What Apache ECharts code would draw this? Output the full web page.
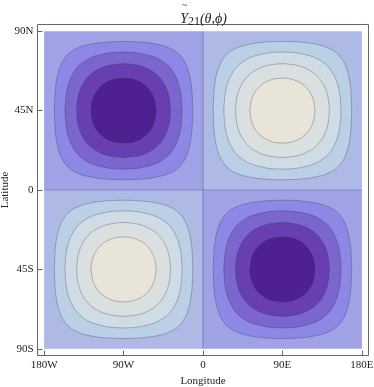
<!DOCTYPE html>
<html>
<head>
<meta charset="utf-8">
<style>html,body{margin:0;padding:0;background:#fff}#main{width:374px;height:387px}</style>
<script src="https://cdn.jsdelivr.net/npm/echarts@6/dist/echarts.min.js"></script>
</head>
<body>
<div id="main"></div>
<script>
// tick positions and their labels
var lonTicks = [-180, -90, 0, 90, 180];
var lonLabels = ['180W', '90W', '0', '90E', '180E'];
var latTicks = [-90, -45, 0, 45, 90];
var latLabels = ['90S', '45S', '0', '45N', '90N'];

// lobe centres [lon, lat, kind] kind 0 = purple, 1 = pale
var lobes = [[-90, 45, 0], [90, 45, 1], [-90, -45, 1], [90, -45, 0]];

var backdrop = [[0, 45], [90, 45], [90, 0]];
var ring1 = [[0, 39.2], [15, 39], [30, 38.3], [45, 36.8], [55, 34.8], [60, 33.2], [65, 30.9], [70, 27.1], [74, 21.7], [76, 17.1], [77.5, 11.2], [78.4, 0]];
var ring2 = [[0, 33.2], [15, 32.8], [30, 31.2], [40, 29.3], [50, 25.8], [55, 22.9], [60, 18.4], [63, 14.1], [65, 9.4], [66.4, 0]];
var ring3 = [[0, 26.6], [15, 25.8], [25, 24.3], [35, 21.5], [42, 18.1], [47, 14.2], [50, 10.6], [52, 6.5], [53.1, 0]];
var ring4 = [[0, 18.4], [10, 17.9], [20, 15.9], [27, 13.1], [32, 9.7], [35, 6.2], [36.9, 0]];
var outlines = [backdrop, ring1, ring2, ring3, ring4];

// fill per ring, outermost first
var purples = ['#a0a2e6', '#8d88e6', '#7a66cc', '#673fb0', '#4e2090'];
var pales = ['#afb9e6', '#bbd0e6', '#cfdce6', '#dadfe0', '#e8e4d8'];

// zero lines as [lon1, lat1, lon2, lat2]
var zeroLines = [[0, -90, 0, 90], [-180, 0, 180, 0]];

var serif = '"Liberation Serif", serif';

function closeOutline(q) {
    var pts = [], i;
    for (i = 0; i < q.length; i++) pts.push([q[i][0], q[i][1]]);
    for (i = q.length - 2; i >= 0; i--) pts.push([q[i][0], -q[i][1]]);
    for (i = 1; i < q.length; i++) pts.push([-q[i][0], -q[i][1]]);
    for (i = q.length - 2; i > 0; i--) pts.push([-q[i][0], q[i][1]]);
    return pts;
}

var cells = [];
lobes.forEach(function (l, li) {
    outlines.forEach(function (o, ri) {
        cells.push([li, ri]);
    });
});

function renderLobeRing(params, api) {
    var lobe = lobes[api.value(0)];
    var ringIdx = api.value(1);
    var pts = closeOutline(outlines[ringIdx]).map(function (p) {
        return api.coord([lobe[0] + p[0], lobe[1] + p[1]]);
    });
    var isBack = ringIdx === 0;
    return {
        type: 'polygon',
        shape: { points: pts, smooth: isBack ? 0 : 0.2 },
        style: {
            fill: (lobe[2] === 0 ? purples : pales)[ringIdx],
            stroke: isBack ? null : 'rgba(45,45,60,0.5)',
            lineWidth: 0.6
        }
    };
}

function renderZeroLine(params, api) {
    var a = api.coord([api.value(0), api.value(1)]);
    var b = api.coord([api.value(2), api.value(3)]);
    return {
        type: 'line',
        shape: { x1: a[0], y1: a[1], x2: b[0], y2: b[1] },
        style: { stroke: 'rgba(50,50,110,0.3)', lineWidth: 1.2, fill: null }
    };
}

var myChart = echarts.init(document.getElementById('main'));
var option = {
    animation: false,
    title: {
        text: '{y|Y}{s|21}{y|(θ,ϕ)}',
        left: 198.5,
        top: 6,
        textAlign: 'center',
        textStyle: {
            fontWeight: 'normal',
            rich: {
                y: { fontFamily: serif, fontStyle: 'italic', fontWeight: 'normal', fontSize: 14, color: '#222' },
                s: { fontFamily: serif, fontWeight: 'normal', fontSize: 12, color: '#222', padding: [5, 0, 0, 0] }
            }
        }
    },
    graphic: [{
        type: 'text',
        left: 182,
        top: 0,
        style: { text: '~', font: '10px ' + serif, fill: '#333' }
    }],
    grid: { left: 37.5, top: 24.5, width: 331, height: 331, outerBoundsMode: 'none', show: true, borderColor: '#666', borderWidth: 1, backgroundColor: '#fff' },
    xAxis: {
        type: 'value',
        min: -187.5,
        max: 187.5,
        name: 'Longitude',
        nameLocation: 'middle',
        nameGap: 20,
        nameMoveOverlap: false,
        nameTextStyle: { fontFamily: serif, fontSize: 11, color: '#222' },
        axisLine: { show: false, onZero: false },
        splitLine: { show: false },
        axisTick: { show: true, inside: true, length: 5, customValues: lonTicks, lineStyle: { color: '#666' } },
        axisLabel: {
            customValues: lonTicks,
            fontFamily: serif,
            fontSize: 11,
            color: '#222',
            margin: 4,
            formatter: function (v) { return lonLabels[lonTicks.indexOf(v)]; }
        }
    },
    yAxis: {
        type: 'value',
        min: -93.8,
        max: 93.8,
        name: 'Latitude',
        nameLocation: 'middle',
        nameGap: 27,
        nameMoveOverlap: false,
        nameTextStyle: { fontFamily: serif, fontSize: 11, color: '#222' },
        axisLine: { show: false, onZero: false },
        splitLine: { show: false },
        axisTick: { show: true, inside: true, length: 5, customValues: latTicks, lineStyle: { color: '#666' } },
        axisLabel: {
            customValues: latTicks,
            fontFamily: serif,
            fontSize: 11,
            color: '#222',
            margin: 4,
            formatter: function (v) { return latLabels[latTicks.indexOf(v)]; }
        }
    },
    series: [
        { type: 'custom', renderItem: renderLobeRing, data: cells, clip: false, silent: true, z: 2 },
        { type: 'custom', renderItem: renderZeroLine, data: zeroLines, clip: false, silent: true, z: 3 }
    ]
};
myChart.setOption(option, true);
</script>
</body>
</html>
